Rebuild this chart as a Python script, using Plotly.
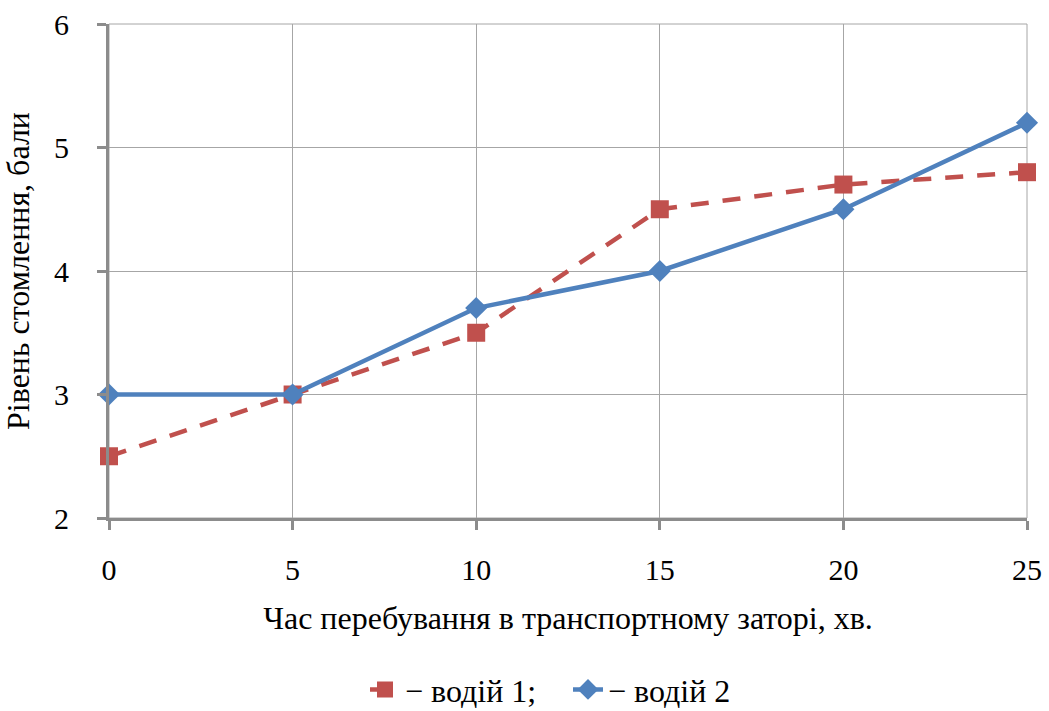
import plotly.graph_objects as go

time_min = [0, 5, 10, 15, 20, 25]
driver1 = [2.5, 3.0, 3.5, 4.5, 4.7, 4.8]
driver2 = [3.0, 3.0, 3.7, 4.0, 4.5, 5.2]
names = ["− водій 1;", "− водій 2"]
x_title = "Час перебування в транспортному заторі, хв."
y_title = "Рівень стомлення, бали"

font = "Liberation Serif"

fig = go.Figure()
fig.add_trace(go.Scatter(
    x=time_min, y=driver1, name=names[0], mode="lines+markers", cliponaxis=False,
    line=dict(color="#C0504D", width=4.5, dash="18px,14px"),
    marker=dict(symbol="square", size=18, color="#C0504D"),
))
fig.add_trace(go.Scatter(
    x=time_min, y=driver2, name=names[1], mode="lines+markers", cliponaxis=False,
    line=dict(color="#4F81BD", width=4.5),
    marker=dict(symbol="diamond", size=17, color="#4F81BD"),
))

axis_common = dict(
    showgrid=True, gridcolor="#A6A6A6", gridwidth=1,
    showline=True, linecolor="#8C8C8C", linewidth=3,
    ticks="outside", ticklen=9, tickcolor="#8C8C8C", tickwidth=3,
    tickfont=dict(family=font, size=30, color="#000000"),
    zeroline=False, automargin=False,
)

fig.update_layout(
    width=1049, height=711,
    margin=dict(l=109, r=22, t=24, b=193, autoexpand=False),
    paper_bgcolor="white", plot_bgcolor="white",
    font=dict(family=font, color="#000000"),
    xaxis=dict(range=[0, 25], dtick=5, title=dict(text=x_title, font=dict(family=font, size=32), standoff=22),
               **axis_common),
    yaxis=dict(range=[2, 6], dtick=1, title=dict(text=y_title, font=dict(family=font, size=32), standoff=20),
               **axis_common),
    legend=dict(orientation="h", x=0.5, xanchor="center", yref="container", y=0.03, yanchor="middle",
                font=dict(family=font, size=32), entrywidth=158, entrywidthmode="pixels"),
    showlegend=True,
)
fig.update_xaxes(ticklabelstandoff=14)
fig.update_yaxes(ticklabelstandoff=22)
fig.add_shape(type="rect", xref="paper", yref="paper", x0=0, y0=0, x1=1, y1=1,
              line=dict(color="#A6A6A6", width=1), layer="below")

fig.write_html("out.html")
